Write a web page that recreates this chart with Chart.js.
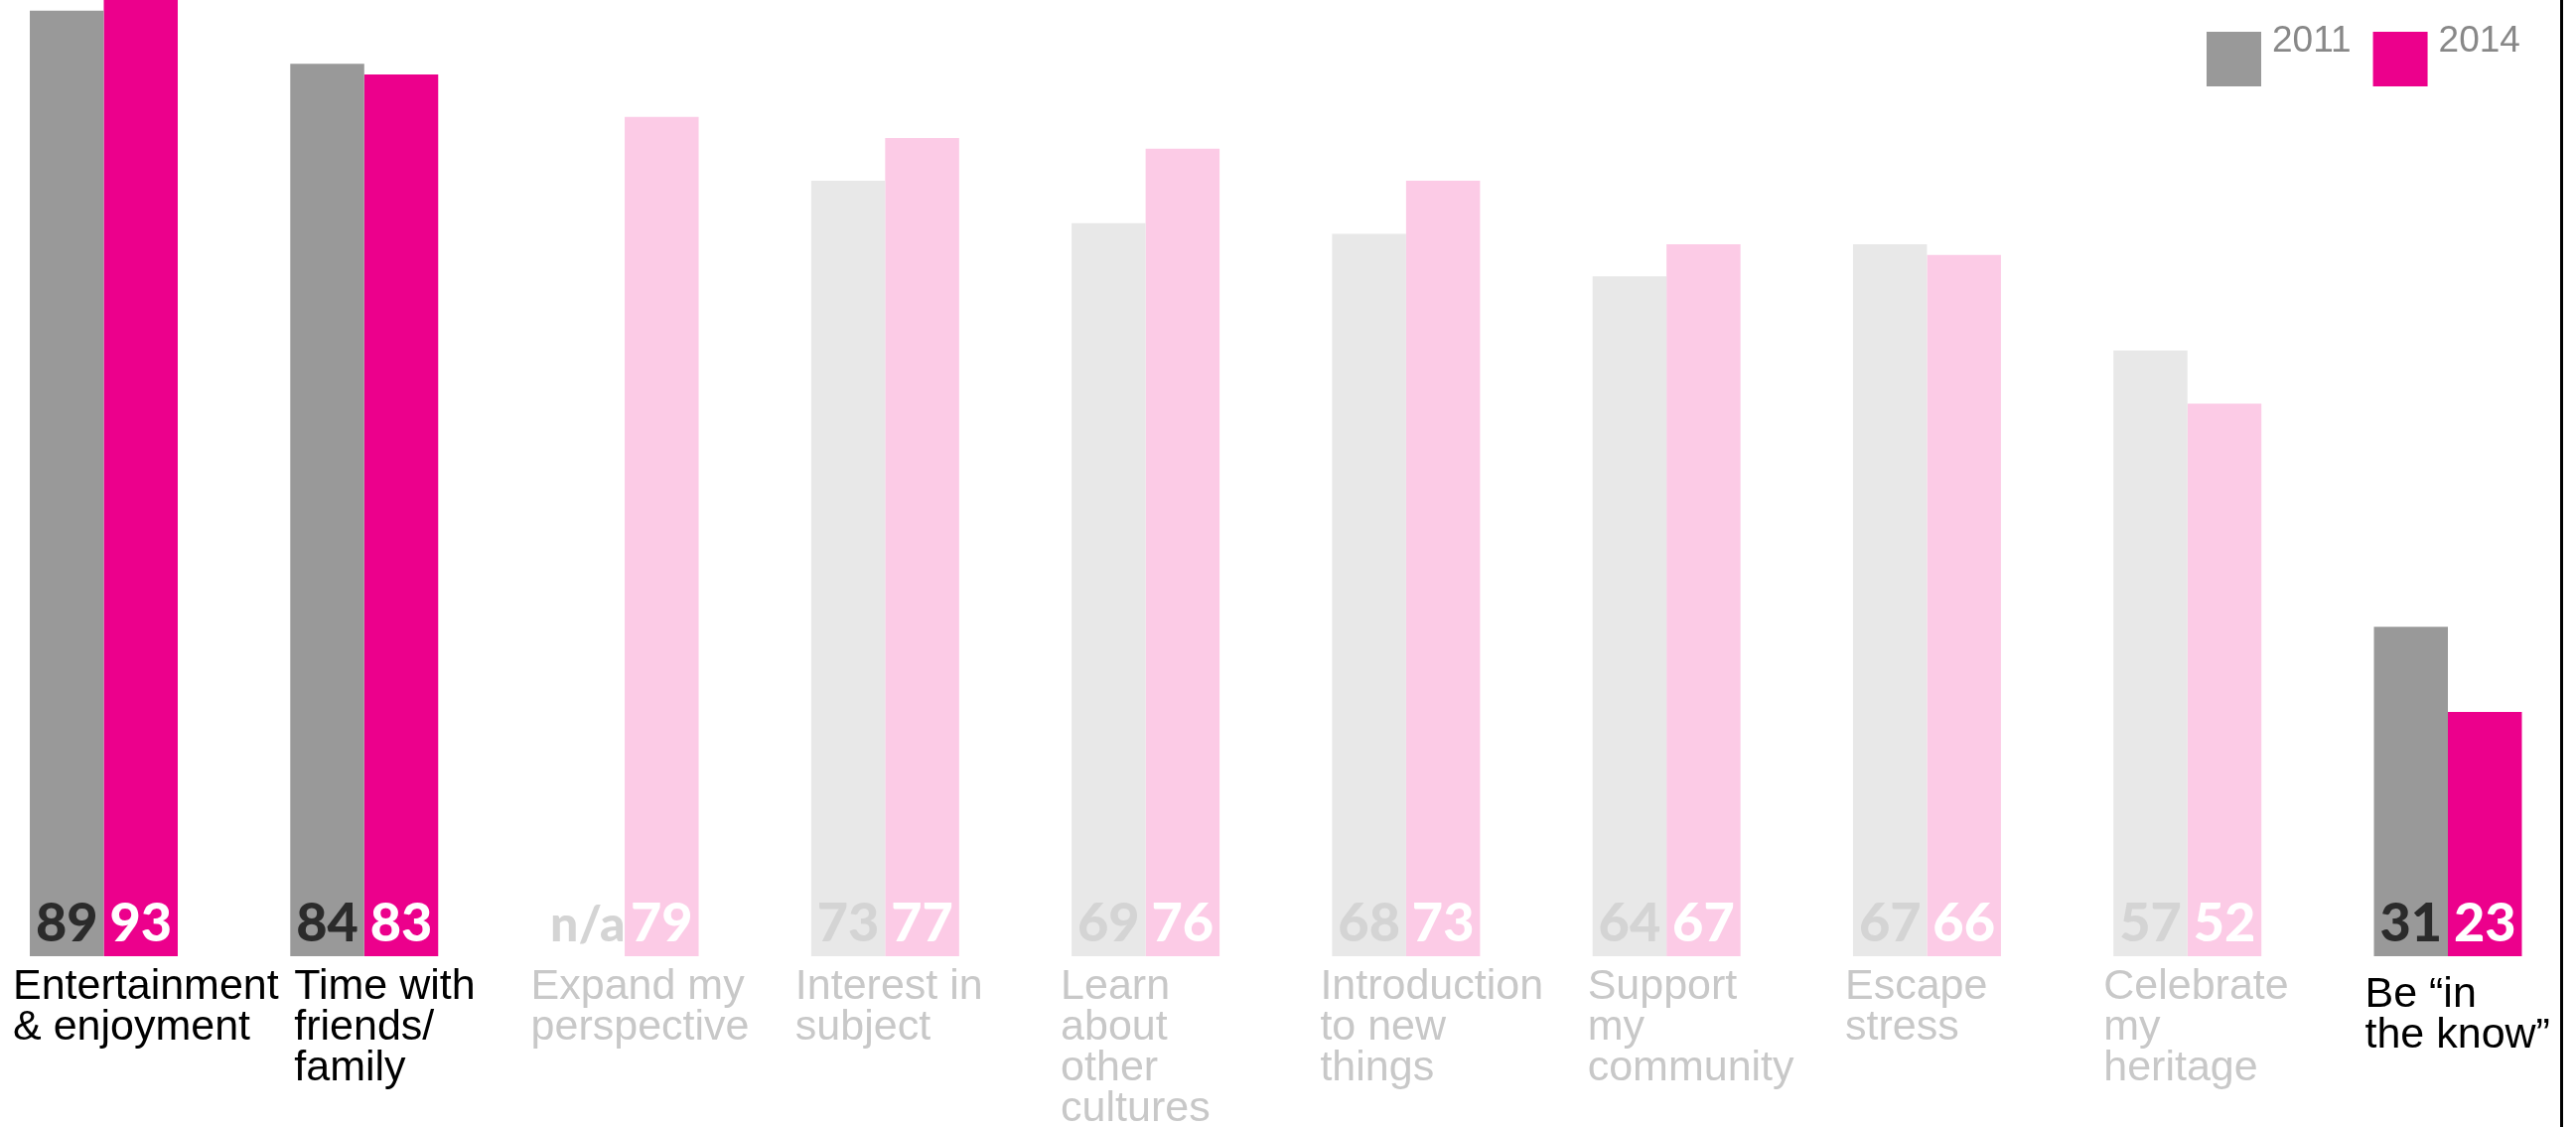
<!DOCTYPE html>
<html>
<head>
<meta charset="utf-8">
<title>Reasons for attending, 2011 vs 2014</title>
<script src="https://cdn.jsdelivr.net/npm/chart.js@4.4.1/dist/chart.umd.min.js"></script>
<style>
  html, body { margin: 0; padding: 0; background: #fff; overflow: hidden; }
  .wrap { position: relative; width: 2594px; height: 1135px; }
  .edge { position: absolute; left: 2578px; top: 0; width: 3px; height: 100%; background: #000; }
</style>
</head>
<body>
<div class="wrap">
  <canvas id="reasons"></canvas>
  <div class="edge"></div>
</div>
<script>
// categories (multi-line labels) and survey percentages
const categories = [
  ['Entertainment', '& enjoyment'],
  ['Time with', 'friends/', 'family'],
  ['Expand my', 'perspective'],
  ['Interest in', 'subject'],
  ['Learn', 'about', 'other', 'cultures'],
  ['Introduction', 'to new', 'things'],
  ['Support', 'my', 'community'],
  ['Escape', 'stress'],
  ['Celebrate', 'my', 'heritage'],
  ['Be \u201cin', 'the know\u201d'],
];
const values2011 = [89, 84, null, 73, 69, 68, 64, 67, 57, 31];
const values2014 = [93, 83, 79, 77, 76, 73, 67, 66, 52, 23];
const highlighted = [true, true, false, false, false, false, false, false, false, true];

const GRAY = '#999999', GRAY_FADE = '#e8e8e8';
const PINK = '#ec008c', PINK_FADE = '#fccbe6';
const SANS = '"Liberation Sans", Arial, Helvetica, sans-serif';

// numbers printed at the foot of each bar
const valueLabels = {
  id: 'valueLabels',
  afterDatasetsDraw(chart) {
    const { ctx } = chart;
    const base = chart.scales.y.getPixelForValue(0) - 15;
    ctx.save();
    ctx.textAlign = 'center';
    ctx.textBaseline = 'alphabetic';
    chart.data.datasets.forEach((ds, di) => {
      const meta = chart.getDatasetMeta(di);
      meta.data.forEach((bar, i) => {
        const v = ds.data[i];
        if (v === null || v === undefined) {
          ctx.font = '900 50px Lato, ' + SANS;
          ctx.fillStyle = '#d4d4d4';
          ctx.fillText('n/a', bar.x, base);
          return;
        }
        ctx.font = '900 54px Lato, ' + SANS;
        ctx.fillStyle = ds.valueColors[i];
        ctx.fillText(String(v), bar.x, base);
      });
    });
    ctx.restore();
  }
};

// category names under each pair, hung from the left edge of the pair
const categoryLabels = {
  id: 'categoryLabels',
  // hand nudges so neighbouring names keep a gap
  shiftX: [-17, 4, -20, -16, -11, -12, -5, -8, -10, -9],
  shiftY: [0, 0, 0, 0, 0, 0, 0, 0, 0, 8],
  afterDraw(chart) {
    const { ctx } = chart;
    const xAxis = chart.scales.x;
    const first = chart.getDatasetMeta(0).data;
    const lineH = 41;
    ctx.save();
    ctx.font = '43px ' + SANS;
    ctx.textAlign = 'left';
    ctx.textBaseline = 'alphabetic';
    categories.forEach((lines, i) => {
      const left = first[i].x - first[i].width / 2 + this.shiftX[i];
      const top = xAxis.top + 43 + this.shiftY[i];
      ctx.fillStyle = highlighted[i] ? '#000000' : '#c8c8c8';
      lines.forEach((line, k) => ctx.fillText(line, left, top + k * lineH));
    });
    ctx.restore();
  }
};

// square keys in the top right corner, text sitting high beside them
const cornerLegend = {
  id: 'cornerLegend',
  afterDraw(chart) {
    const { ctx } = chart;
    let x = 2222;
    ctx.save();
    ctx.font = '37px ' + SANS;
    ctx.textAlign = 'left';
    ctx.textBaseline = 'alphabetic';
    chart.data.datasets.forEach(ds => {
      ctx.fillStyle = ds.keyColor;
      ctx.fillRect(x, 32, 55, 55);
      ctx.fillStyle = '#888888';
      ctx.fillText(ds.label, x + 66, 52);
      x += 66 + ctx.measureText(ds.label).width + 22;
    });
    ctx.restore();
  }
};

new Chart(document.getElementById('reasons'), {
  type: 'bar',
  data: {
    labels: categories,
    datasets: [
      {
        label: '2011',
        data: values2011,
        backgroundColor: highlighted.map(h => h ? GRAY : GRAY_FADE),
        keyColor: GRAY,
        valueColors: highlighted.map(h => h ? '#2b2b2b' : '#d4d4d4'),
      },
      {
        label: '2014',
        data: values2014,
        backgroundColor: highlighted.map(h => h ? PINK : PINK_FADE),
        keyColor: PINK,
        valueColors: highlighted.map(() => '#ffffff'),
      },
    ],
  },
  options: {
    responsive: true,
    maintainAspectRatio: false,
    animation: false,
    layout: { padding: { left: 104.5, right: 129, top: 0, bottom: 0 } },
    datasets: {
      bar: {
        categoryPercentage: 0.568,
        barPercentage: 1,
        borderWidth: 0,
        clip: false,
      },
    },
    plugins: {
      legend: { display: false },
      tooltip: { enabled: false },
    },
    scales: {
      x: {
        offset: false,
        grid: { display: false, drawTicks: false },
        border: { display: false },
        ticks: { display: false, autoSkip: false, maxRotation: 0, minRotation: 0 },
        afterFit(scale) {
          // room under the bars for up to four lines of names
          scale.height = 172;
          scale.paddingLeft = 0;
          scale.paddingRight = 0;
        },
      },
      y: {
        display: false,
        min: 0,
        max: 90,
      },
    },
  },
  plugins: [valueLabels, categoryLabels, cornerLegend],
});
</script>
</body>
</html>
